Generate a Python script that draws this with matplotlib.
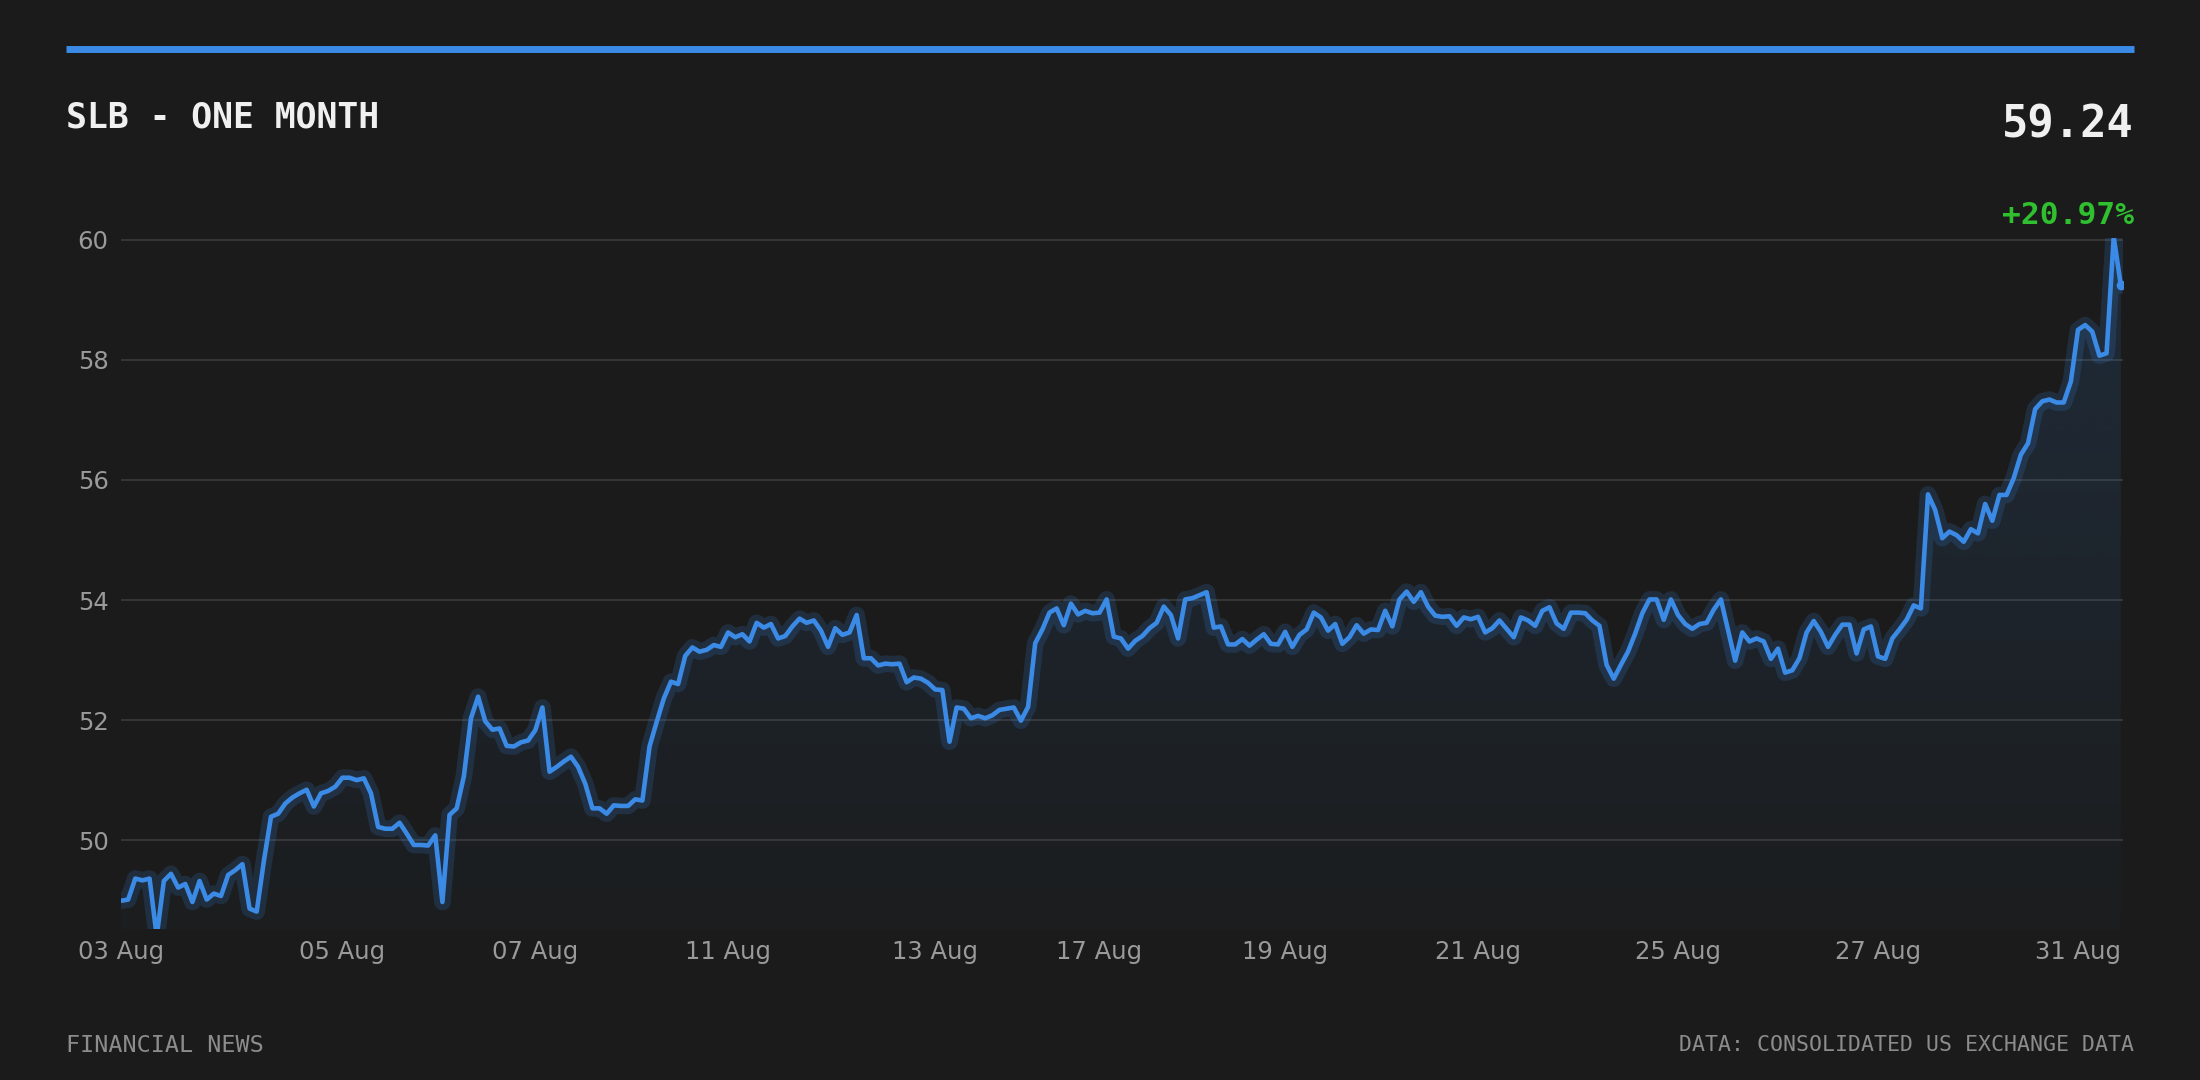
import numpy as np
import matplotlib
matplotlib.use('Agg')
import matplotlib.pyplot as plt
from matplotlib.patches import Polygon
from matplotlib.lines import Line2D

# SLB, one month of intraday closes
prices = [
    48.99, 49.01, 49.36, 49.33, 49.36, 48.40, 49.32, 49.44, 49.21, 49.27,
    48.97, 49.32, 49.01, 49.11, 49.07, 49.42, 49.50, 49.60, 48.86, 48.81,
    49.65, 50.39, 50.44, 50.61, 50.71, 50.78, 50.84, 50.56, 50.78, 50.82,
    50.89, 51.04, 51.04, 51.00, 51.03, 50.78, 50.22, 50.19, 50.19, 50.29,
    50.11, 49.92, 49.92, 49.91, 50.08, 48.97, 50.42, 50.53, 51.06, 52.03,
    52.39, 51.98, 51.84, 51.86, 51.57, 51.56, 51.63, 51.66, 51.83, 52.21,
    51.14, 51.22, 51.31, 51.39, 51.22, 50.94, 50.53, 50.53, 50.44, 50.58,
    50.57, 50.57, 50.68, 50.66, 51.56, 51.97, 52.36, 52.64, 52.60, 53.07,
    53.21, 53.14, 53.17, 53.25, 53.22, 53.46, 53.38, 53.43, 53.31, 53.62,
    53.54, 53.60, 53.36, 53.40, 53.56, 53.69, 53.62, 53.66, 53.49, 53.22,
    53.53, 53.42, 53.46, 53.75, 53.03, 53.03, 52.91, 52.94, 52.93, 52.94,
    52.63, 52.71, 52.69, 52.62, 52.51, 52.50, 51.64, 52.21, 52.19, 52.03,
    52.07, 52.03, 52.08, 52.17, 52.19, 52.21, 51.99, 52.22, 53.28, 53.51,
    53.79, 53.86, 53.58, 53.94, 53.76, 53.82, 53.78, 53.79, 54.01, 53.39,
    53.36, 53.19, 53.32, 53.40, 53.53, 53.62, 53.89, 53.75, 53.36, 54.01,
    54.03, 54.08, 54.13, 53.54, 53.56, 53.26, 53.26, 53.35, 53.24, 53.34,
    53.43, 53.27, 53.26, 53.47, 53.22, 53.42, 53.51, 53.79, 53.71, 53.49,
    53.60, 53.27, 53.38, 53.58, 53.44, 53.51, 53.50, 53.82, 53.56, 54.01,
    54.14, 53.97, 54.13, 53.89, 53.74, 53.72, 53.73, 53.57, 53.71, 53.68,
    53.72, 53.46, 53.53, 53.66, 53.52, 53.38, 53.71, 53.66, 53.57, 53.82,
    53.88, 53.61, 53.52, 53.79, 53.79, 53.78, 53.66, 53.57, 52.92, 52.69,
    52.92, 53.14, 53.44, 53.78, 54.01, 54.01, 53.67, 54.01, 53.75, 53.60,
    53.52, 53.60, 53.62, 53.84, 54.01, 53.50, 52.99, 53.46, 53.31, 53.36,
    53.31, 53.02, 53.19, 52.79, 52.83, 53.03, 53.46, 53.65, 53.47, 53.22,
    53.42, 53.59, 53.59, 53.11, 53.51, 53.56, 53.06, 53.02, 53.36, 53.51,
    53.67, 53.91, 53.86, 55.76, 55.50, 55.03, 55.14, 55.08, 54.97, 55.18,
    55.11, 55.60, 55.32, 55.75, 55.75, 56.03, 56.42, 56.61, 57.18, 57.31,
    57.34, 57.29, 57.29, 57.64, 58.50, 58.58, 58.47, 58.07, 58.11, 60.05,
    59.24,
]
tick_idx = [0, 31, 58, 85, 114, 137, 163, 190, 218, 246, 274]
tick_labels = ['03 Aug', '05 Aug', '07 Aug', '11 Aug', '13 Aug', '17 Aug',
               '19 Aug', '21 Aug', '25 Aug', '27 Aug', '31 Aug']
y_ticks = [50, 52, 54, 56, 58, 60]
title = 'SLB - ONE MONTH'
last_price = '59.24'
change = '+20.97%'

bg = '#1b1b1b'
blue = '#3a8ae6'
mono = 'DejaVu Sans Mono'

fig = plt.figure(figsize=(22, 10.8), dpi=100, facecolor=bg)
ax = fig.add_axes([121/2200, 1-929/1080, (2123-121)/2200, (929-238)/1080])
ax.set_facecolor(bg)

x = np.arange(len(prices))
ymin, ymax = 48.52, 60.03

# gradient fill under the line
grad = np.zeros((256, 1, 4))
grad[..., :3] = matplotlib.colors.to_rgb(blue)
grad[..., 3] = np.linspace(0.02, 0.15, 256).reshape(-1, 1)
im = ax.imshow(grad, extent=[0, x[-1], ymin, ymax], origin='lower',
               aspect='auto', zorder=1, interpolation='bilinear')
verts = [(0, ymin)] + list(zip(x, prices)) + [(x[-1], ymin)]
clip = Polygon(verts, closed=True, facecolor='none', edgecolor='none')
ax.add_patch(clip)
im.set_clip_path(clip)

# glow + line
ax.plot(x, prices, color=blue, lw=12, alpha=0.17, zorder=2,
        solid_joinstyle='round', solid_capstyle='round')
ax.plot(x, prices, color=blue, lw=3.3, zorder=3, solid_joinstyle='round')
ax.plot(x[-1], prices[-1], 'o', color=blue, ms=6, zorder=4)

ax.set_xlim(0, x[-1] + 0.3)
ax.set_ylim(ymin, ymax)
ax.set_yticks(y_ticks)
ax.set_yticklabels([str(v) for v in y_ticks])
ax.set_xticks(tick_idx)
ax.set_xticklabels(tick_labels)
ax.yaxis.grid(True, color='#353535', lw=1.5)
ax.xaxis.grid(False)
ax.set_axisbelow(True)
for s in ax.spines.values():
    s.set_visible(False)
ax.tick_params(axis='both', length=0, colors='#9a9a9a', labelsize=17.5)
ax.tick_params(axis='y', pad=9)
ax.tick_params(axis='x', pad=8)

# header
fig.add_artist(Line2D([66/2200, 2134/2200], [1-49/1080, 1-49/1080],
                      color=blue, lw=5, solid_capstyle='butt'))
fig.text(66/2200, 1-118/1080, title, family=mono, fontweight='bold',
         fontsize=25, color='#f0f0f0', ha='left', va='center')
fig.text(2134/2200, 1-125/1080, last_price, family=mono, fontweight='bold',
         fontsize=31.5, color='#f0f0f0', ha='right', va='center')
fig.text(2134/2200, 1-215/1080, change, family=mono, fontweight='bold',
         fontsize=22.5, color='#2fbf2f', ha='right', va='center')

# footer
fig.text(66/2200, 1-1045/1080, 'FINANCIAL NEWS', family=mono,
         fontsize=16.8, color='#8c8c8c', ha='left', va='center')
fig.text(2134/2200, 1-1045/1080, 'DATA: CONSOLIDATED US EXCHANGE DATA',
         family=mono, fontsize=15.5, color='#8c8c8c', ha='right', va='center')

fig.savefig('out.png', dpi=100, facecolor=bg)
